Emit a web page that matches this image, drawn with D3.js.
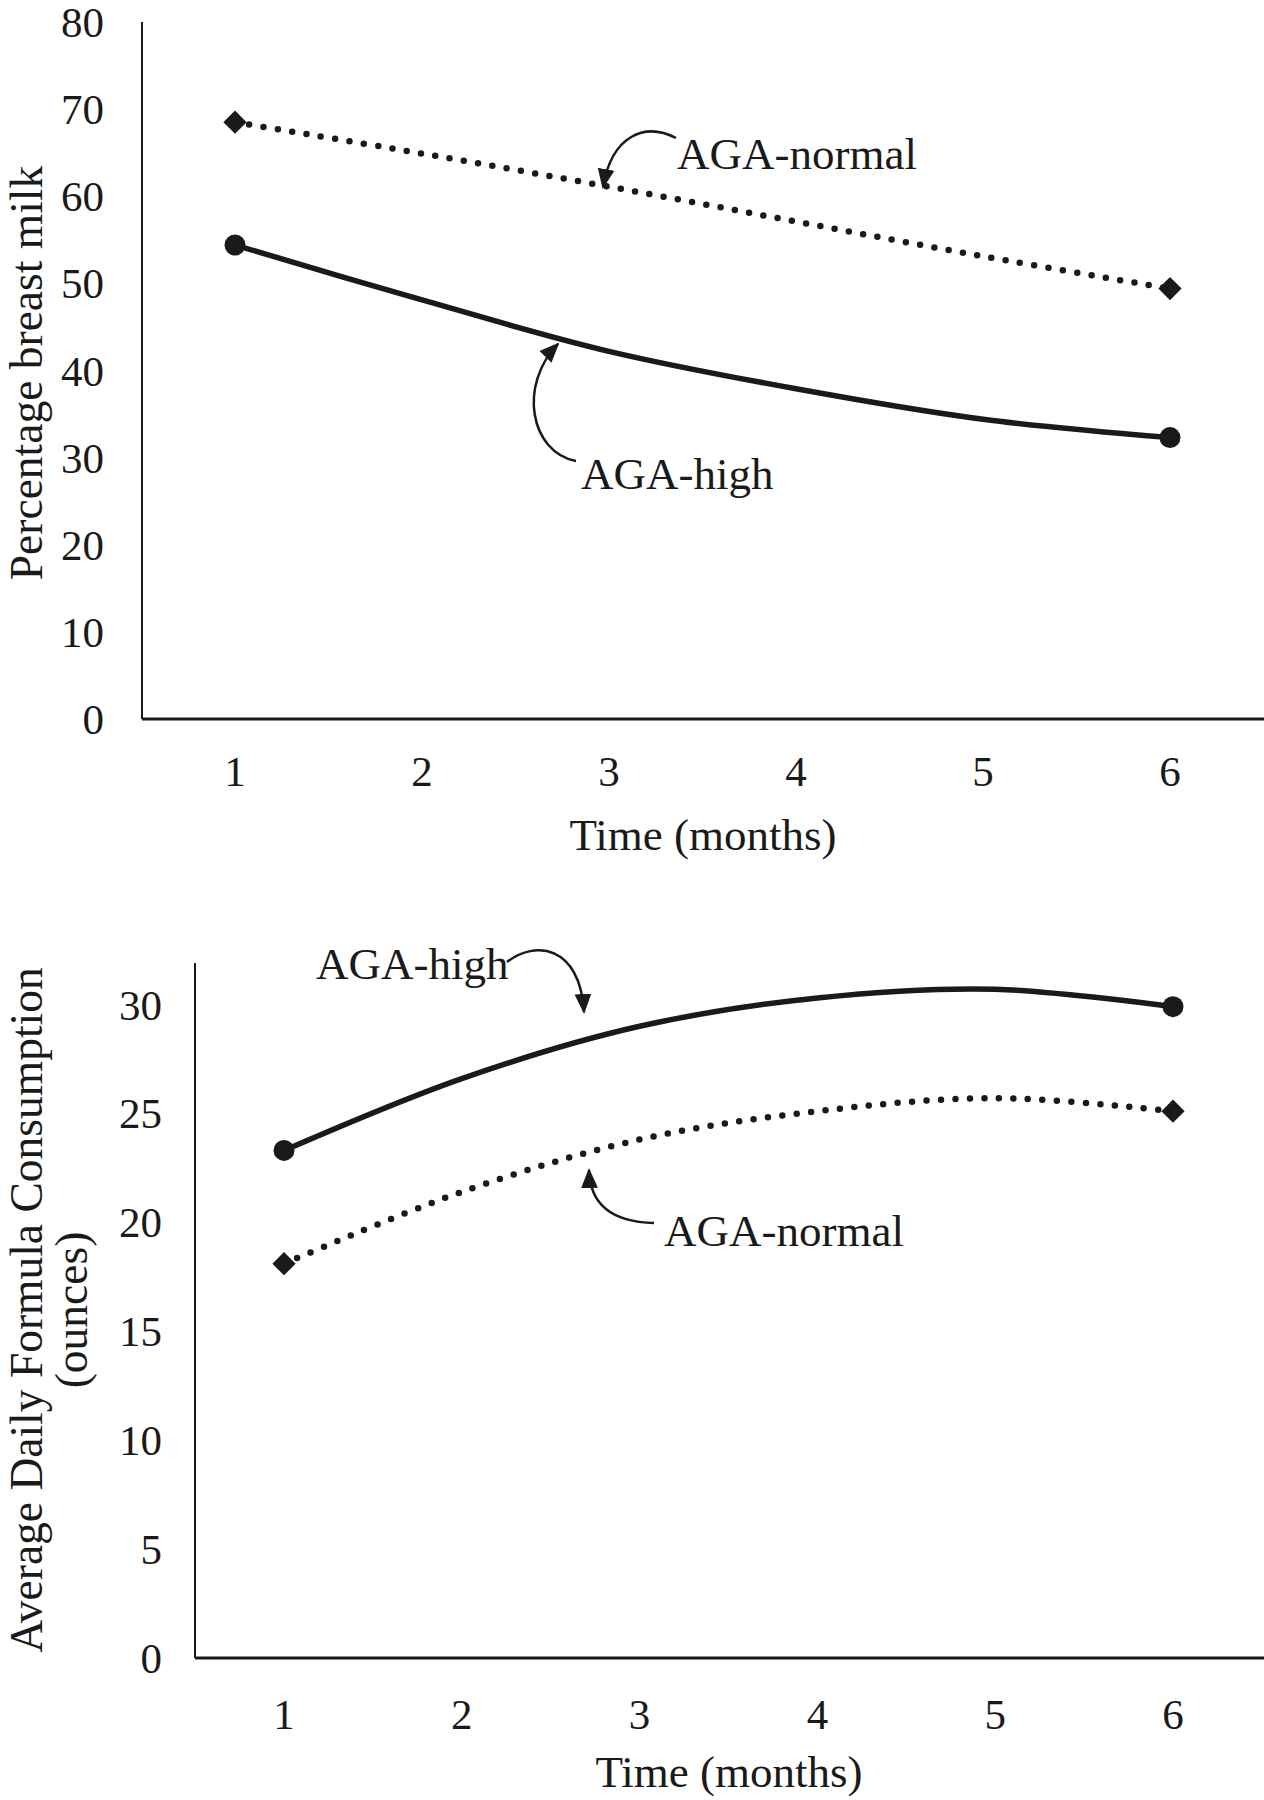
<!DOCTYPE html>
<html>
<head>
<meta charset="utf-8">
<script src="https://cdn.jsdelivr.net/npm/d3@7"></script>
<style>
  html, body { margin: 0; padding: 0; background: #fff; }
  svg { display: block; }
  text { font-family: "Liberation Serif", "Times New Roman", serif; fill: #1a1a1a; }
</style>
</head>
<body>
<svg id="chart" width="1264" height="1800"></svg>
<script>
// ---- data ----
const months = [1, 2, 3, 4, 5, 6];

// Panel A: Percentage breast milk
const breastTicks = [0, 10, 20, 30, 40, 50, 60, 70, 80];
const breastHigh   = [54.4, 48.1, 42.2, 37.9, 34.4, 32.3];
const breastNormal = [68.5, 64.9, 61.1, 57.1, 53.1, 49.4];

// Panel B: Average daily formula consumption (ounces)
const formulaTicks = [0, 5, 10, 15, 20, 25, 30];
const formulaHigh   = [23.3, 26.6, 29.0, 30.3, 30.7, 29.9];
const formulaNormal = [18.1, 21.4, 23.8, 25.1, 25.7, 25.1];

const seriesNames = ["AGA-high", "AGA-normal"];
const xTitle = "Time (months)";
const yTitleA = ["Percentage breast milk"];
const yTitleB = ["Average Daily Formula Consumption", "(ounces)"];

// ---- drawing ----
const svg = d3.select("#chart");
svg.append("rect").attr("width", 1264).attr("height", 1800).attr("fill", "#fff");

const defs = svg.append("defs");
defs.append("marker")
  .attr("id", "arrow")
  .attr("viewBox", "0 0 10 10")
  .attr("refX", 9).attr("refY", 5)
  .attr("markerWidth", 8).attr("markerHeight", 8)
  .attr("markerUnits", "strokeWidth")
  .attr("orient", "auto")
  .append("path").attr("d", "M0,0.8 L10,5 L0,9.2 Z").attr("fill", "#1a1a1a");

const ink = "#1a1a1a";

function panel(cfg) {
  const g = svg.append("g");
  const x = d3.scaleLinear().domain([1, 6]).range(cfg.xRange);
  const y = d3.scaleLinear().domain([0, cfg.yMax]).range(cfg.yRange);

  // axis lines
  g.append("line")
    .attr("x1", cfg.axisX).attr("x2", cfg.axisX)
    .attr("y1", y(0)).attr("y2", y(cfg.yTop))
    .attr("stroke", ink).attr("stroke-width", 2);
  g.append("line")
    .attr("x1", cfg.axisX).attr("x2", 1264)
    .attr("y1", y(0)).attr("y2", y(0))
    .attr("stroke", ink).attr("stroke-width", 3);

  // y tick labels
  g.selectAll(".yt").data(cfg.yTicks).join("text")
    .attr("x", cfg.yLabelX).attr("y", d => y(d))
    .attr("dy", "0.35em")
    .attr("text-anchor", "end")
    .attr("font-size", 43)
    .text(d => d);

  // x tick labels
  g.selectAll(".xt").data(months).join("text")
    .attr("x", d => x(d)).attr("y", cfg.xLabelY)
    .attr("dy", "0.35em")
    .attr("text-anchor", "middle")
    .attr("font-size", 43)
    .text(d => d);

  // x title
  g.append("text")
    .attr("x", cfg.xTitleX).attr("y", cfg.xTitleY)
    .attr("dy", "0.35em")
    .attr("text-anchor", "middle")
    .attr("font-size", 45)
    .text(xTitle);

  // y title
  cfg.yTitle.forEach((t, i) => {
    g.append("text")
      .attr("transform", `translate(${cfg.yTitleX[i]},${cfg.yTitleY}) rotate(-90)`)
      .attr("dy", "0.35em")
      .attr("text-anchor", "middle")
      .attr("font-size", 45.5)
      .text(t);
  });

  const line = d3.line()
    .x((d, i) => x(months[i]))
    .y(d => y(d))
    .curve(d3.curveCatmullRom.alpha(0.5));

  // normal (dotted)
  g.append("path").datum(cfg.normal)
    .attr("d", line)
    .attr("fill", "none")
    .attr("stroke", ink)
    .attr("stroke-width", 6.5)
    .attr("stroke-linecap", "round")
    .attr("stroke-dasharray", "0 14.5");
  // high (solid)
  g.append("path").datum(cfg.high)
    .attr("d", line)
    .attr("fill", "none")
    .attr("stroke", ink)
    .attr("stroke-width", 5.5);

  // end markers
  const ends = [0, 5];
  g.selectAll(".dm").data(ends).join("path")
    .attr("d", d3.symbol(d3.symbolSquare, 270)())
    .attr("transform", i => `translate(${x(months[i])},${y(cfg.normal[i])}) rotate(45)`)
    .attr("fill", ink);
  g.selectAll(".cm").data(ends).join("circle")
    .attr("cx", i => x(months[i])).attr("cy", i => y(cfg.high[i]))
    .attr("r", 10.5)
    .attr("fill", ink);

  // annotations
  cfg.notes.forEach(n => {
    g.append("path")
      .attr("d", n.path)
      .attr("fill", "none")
      .attr("stroke", ink)
      .attr("stroke-width", 2.5)
      .attr("marker-end", "url(#arrow)");
    g.append("text")
      .attr("x", n.x).attr("y", n.y)
      .attr("dy", "0.35em")
      .attr("font-size", 45)
      .text(n.label);
  });
}

panel({
  xRange: [235, 1170],
  yMax: 80, yTop: 80,
  yRange: [719, 22],
  axisX: 142,
  yTicks: breastTicks,
  yLabelX: 104,
  xLabelY: 771,
  xTitleX: 703, xTitleY: 834,
  yTitle: yTitleA, yTitleX: [26], yTitleY: 373,
  high: breastHigh, normal: breastNormal,
  notes: [
    { label: seriesNames[1], x: 677, y: 153, path: "M 676 138 C 645 122, 612 135, 603 187" },
    { label: seriesNames[0], x: 581, y: 473, path: "M 576 461 C 530 452, 518 385, 558 344" }
  ]
});

panel({
  xRange: [284, 1173],
  yMax: 30, yTop: 31.9,
  yRange: [1658, 1004.5],
  axisX: 195,
  yTicks: formulaTicks,
  yLabelX: 162,
  xLabelY: 1714,
  xTitleX: 729, xTitleY: 1771,
  yTitle: yTitleB, yTitleX: [26, 71], yTitleY: 1310,
  high: formulaHigh, normal: formulaNormal,
  notes: [
    { label: seriesNames[0], x: 316, y: 963, path: "M 507 962 C 535 940, 580 945, 584 1012" },
    { label: seriesNames[1], x: 664, y: 1230, path: "M 654 1223 C 612 1222, 590 1205, 589 1170" }
  ]
});
</script>
</body>
</html>
